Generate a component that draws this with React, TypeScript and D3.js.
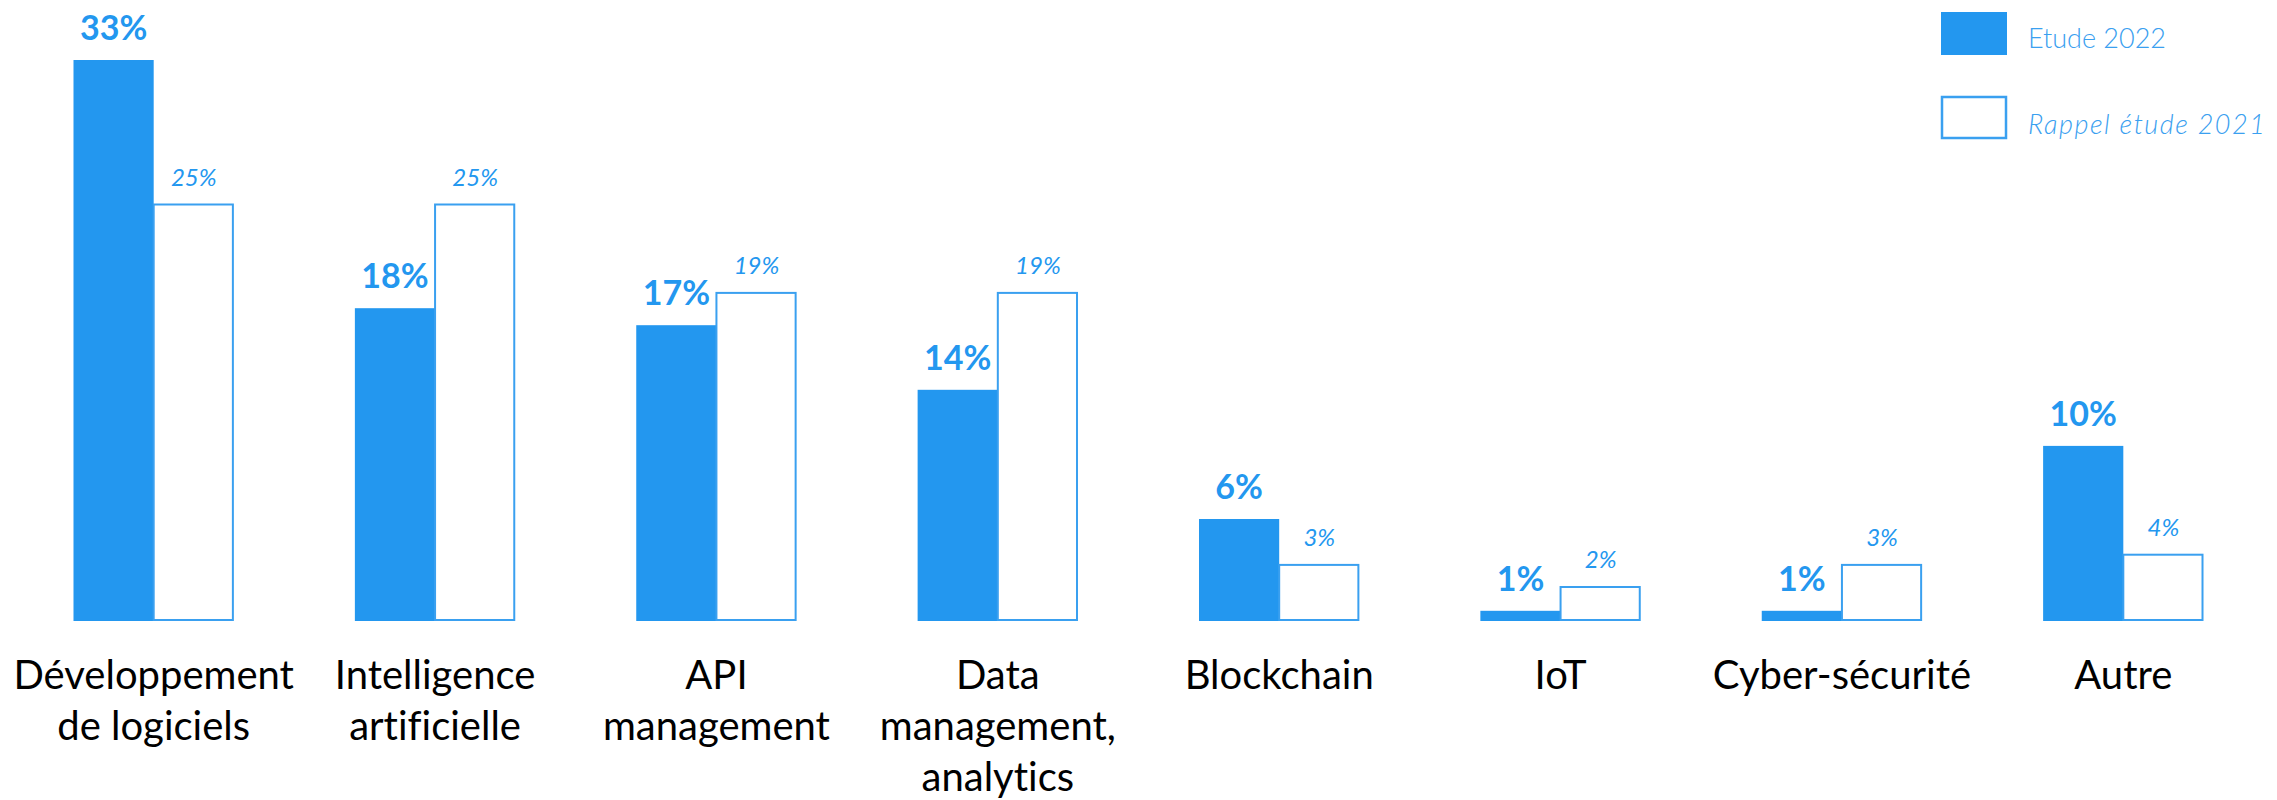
import { useMemo } from 'react'
import * as d3 from 'd3'

const categories = [
  ['Développement', 'de logiciels'],
  ['Intelligence', 'artificielle'],
  ['API', 'management'],
  ['Data', 'management,', 'analytics'],
  ['Blockchain'],
  ['IoT'],
  ['Cyber-sécurité'],
  ['Autre'],
]
const study2022 = [33.0, 18.4, 17.4, 13.6, 6.0, 0.6, 0.6, 10.3]
const study2021 = [24.5, 24.5, 19.3, 19.3, 3.3, 2.0, 3.3, 3.9]
const seriesNames = ['Etude 2022', 'Rappel étude 2021']

const width = 2277
const height = 800
const blue = '#2397ef'
const lightBlue = '#3aa0f0'
const font = 'Lato, "Open Sans", sans-serif'

export default function App() {
  const keys = categories.map((c) => c.join(' '))

  const x = useMemo(
    () =>
      d3.scaleBand<string>().domain(keys).range([13, 2264]).paddingInner(0.43).paddingOuter(0.215),
    [],
  )
  const sub = d3.scaleBand<string>().domain(['a', 'b']).range([0, x.bandwidth()])
  const baseline = 621
  const y = d3.scaleLinear().domain([0, 33]).range([baseline, baseline - 561])

  return (
    <div style={{ position: 'absolute', left: 0, top: 0 }}>
      <svg width={width} height={height} style={{ display: 'block' }}>
        <rect width={width} height={height} fill="white" />
        {keys.map((k, i) => {
          const x0 = x(k) ?? 0
          const v1 = study2022[i]
          const v2 = study2021[i]
          const xa = x0 + (sub('a') ?? 0)
          const xb = x0 + (sub('b') ?? 0)
          const bw = sub.bandwidth()
          const cx = x0 + x.bandwidth() / 2
          return (
            <g key={k}>
              <rect x={xa} y={y(v1)} width={bw} height={baseline - y(v1)} fill={blue} />
              <rect
                x={xb}
                y={y(v2)}
                width={bw - 1}
                height={baseline - y(v2) - 1}
                fill="white"
                stroke={lightBlue}
                strokeWidth={2}
              />
              <text
                x={xa + bw / 2}
                y={y(v1) - 20}
                textAnchor="middle"
                fontFamily={font}
                fontWeight={700}
                fontSize={34}
                fill={blue}
              >
                {Math.round(v1)}%
              </text>
              <text
                x={xb + bw / 2}
                y={y(v2) - 19}
                textAnchor="middle"
                fontFamily={font}
                fontStyle="italic"
                fontSize={24}
                fill={blue}
              >
                {Math.round(v2)}%
              </text>
              <text
                x={cx}
                y={689}
                textAnchor="middle"
                fontFamily={font}
                fontSize={40}
                fill="#000"
                style={{ fontVariantLigatures: 'none' }}
              >
                {categories[i].map((line, j) => (
                  <tspan key={j} x={cx} dy={j === 0 ? 0 : 51}>
                    {line}
                  </tspan>
                ))}
              </text>
            </g>
          )
        })}

        <g>
          <rect x={1941} y={12} width={66} height={43} fill={blue} />
          <rect x={1942} y={97} width={64} height={41} fill="white" stroke={lightBlue} strokeWidth={2.5} />
          <text x={2028} y={48} fontFamily={font} fontWeight={300} fontSize={27} fill={lightBlue}>
            {seriesNames[0]}
          </text>
          <text
            x={2028}
            y={134}
            fontFamily={font}
            fontWeight={300}
            fontStyle="italic"
            fontSize={27}
            letterSpacing={1.5}
            fill={lightBlue}
          >
            {seriesNames[1]}
          </text>
        </g>
      </svg>
    </div>
  )
}
